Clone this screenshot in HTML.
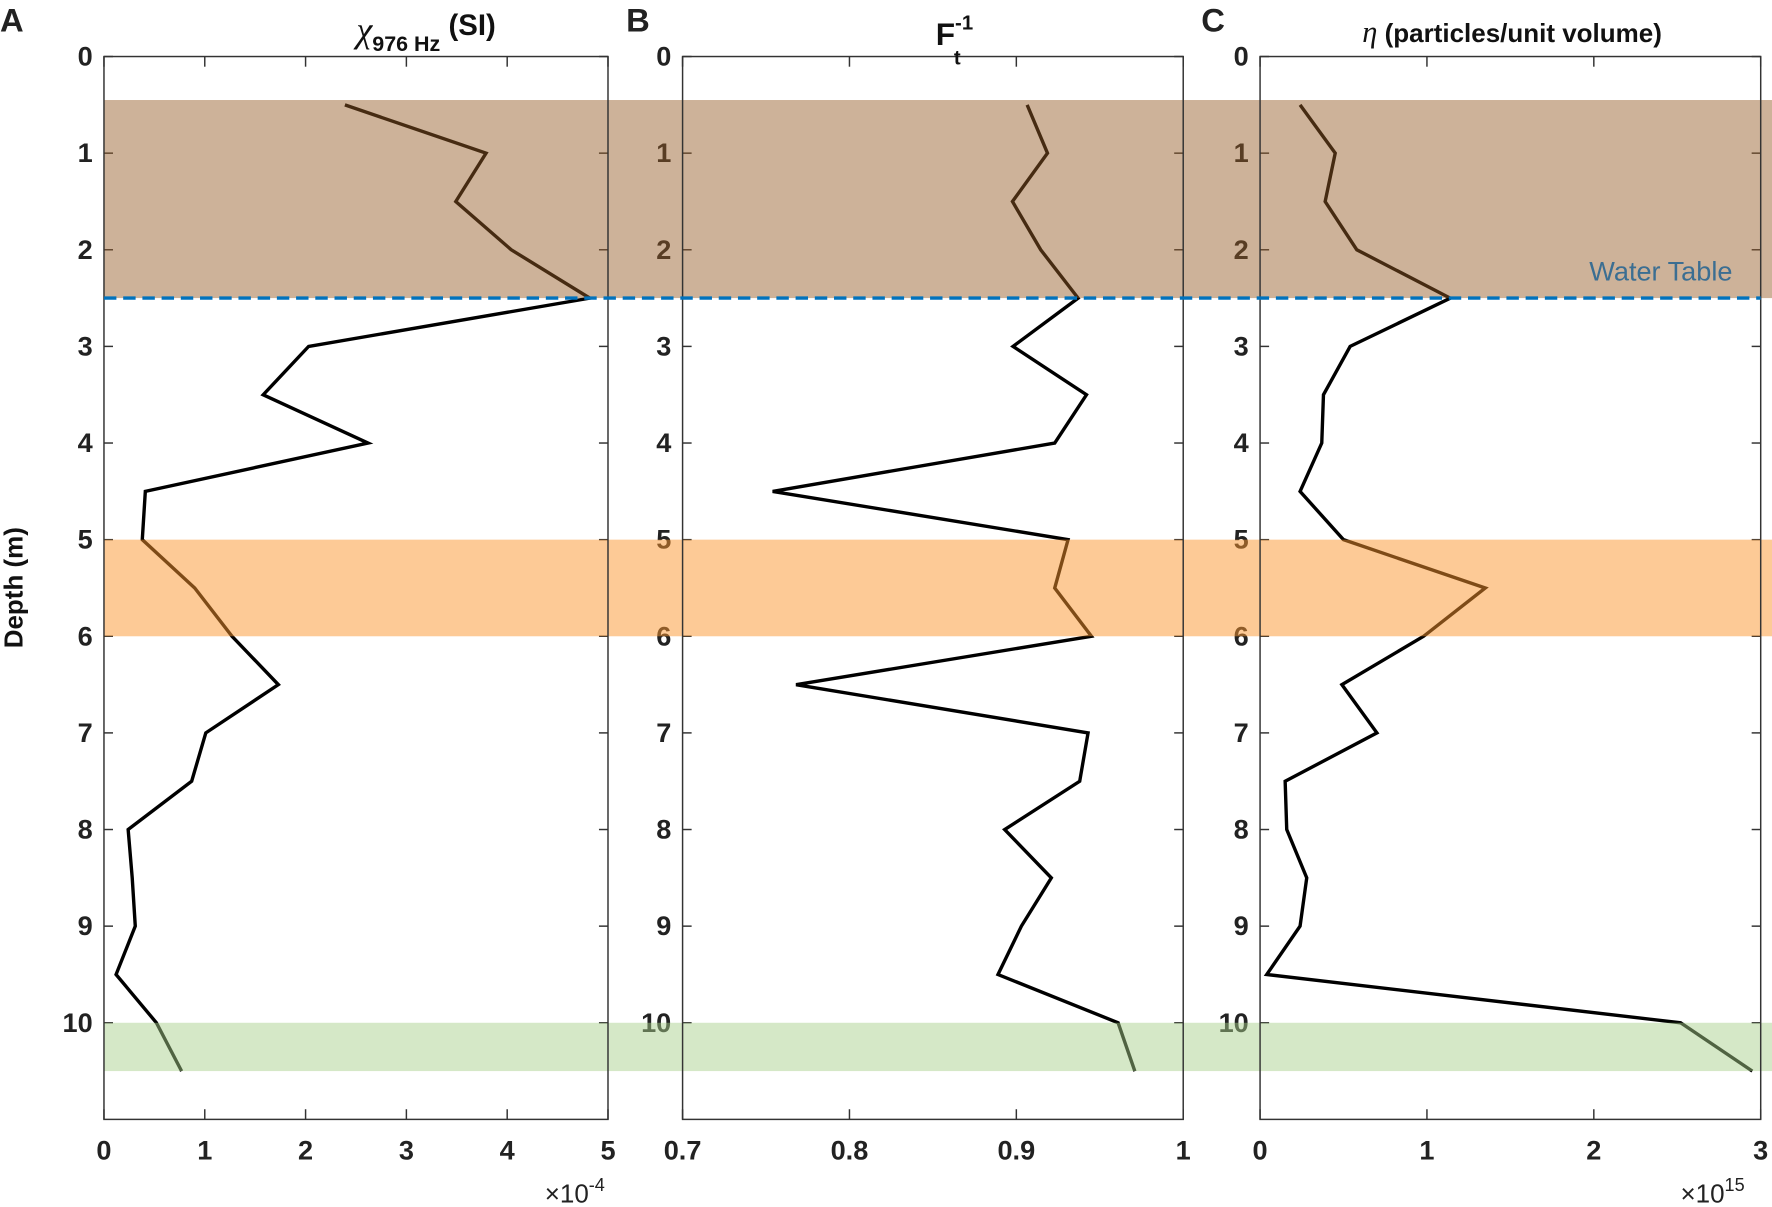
<!DOCTYPE html>
<html><head><meta charset="utf-8"><style>
html,body{margin:0;padding:0;background:#fff;}
svg{display:block;font-family:"Liberation Sans",sans-serif;font-weight:bold;}
</style></head><body>
<svg id="chart" width="1772" height="1207" viewBox="0 0 1568 1068" xmlns="http://www.w3.org/2000/svg"></svg>
<script>
const depths = [0.5,1,1.5,2,2.5,3,3.5,4,4.5,5,5.5,6,6.5,7,7.5,8,8.5,9,9.5,10,10.5];
const chiValues = [2.39,3.79,3.49,4.04,4.82,2.03,1.58,2.62,0.41,0.38,0.90,1.27,1.73,1.01,0.87,0.24,0.28,0.31,0.12,0.52,0.77];
const ftValues = [0.9065,0.9187,0.8977,0.9146,0.937,0.898,0.942,0.923,0.754,0.931,0.923,0.945,0.768,0.943,0.938,0.893,0.921,0.903,0.889,0.961,0.971];
const etaValues = [0.24,0.45,0.39,0.58,1.14,0.54,0.38,0.37,0.24,0.50,1.35,0.98,0.49,0.70,0.15,0.16,0.28,0.24,0.04,2.52,2.95];
const yTicks = [0,1,2,3,4,5,6,7,8,9,10];
const xTicksA = [0,1,2,3,4,5];
const xTicksB = [0.7,0.8,0.9,1];
const xTickLabelsB = ["0.7","0.8","0.9","1"];
const xTicksC = [0,1,2,3];
const bands = [[0.45,2.5],[5,6],[10,10.5]];
const waterTable = 2.5;

const NS="http://www.w3.org/2000/svg";
const svg=document.getElementById('chart');
function mk(tag,attrs,parent){const e=document.createElementNS(NS,tag);for(const k in attrs)e.setAttribute(k,attrs[k]);(parent||svg).appendChild(e);return e;}
const TOP=50,BOT=990.5,DMAX=11;
function yS(d){return TOP+(BOT-TOP)*d/DMAX;}
const panels=[
 {id:'a',x0:92,x1:538,min:0,max:5,vals:chiValues,ticks:xTicksA,labels:xTicksA.map(String),letter:'A',lx:0},
 {id:'b',x0:604,x1:1047,min:0.7,max:1,vals:ftValues,ticks:xTicksB,labels:xTickLabelsB,letter:'B',lx:554},
 {id:'c',x0:1115,x1:1558,min:0,max:3,vals:etaValues,ticks:xTicksC,labels:xTicksC.map(String),letter:'C',lx:1063}
];
panels.forEach(p=>{
 const xS=v=>p.x0+(p.x1-p.x0)*(v-p.min)/(p.max-p.min);
 const g=mk('g',{});
 
 
 yTicks.forEach(t=>{
  const y=yS(t);
  mk('line',{x1:p.x0,y1:y,x2:p.x0+8,y2:y,stroke:'#333','stroke-width':1.3},g);
  mk('line',{x1:p.x1,y1:y,x2:p.x1-8,y2:y,stroke:'#333','stroke-width':1.3},g);
  const tl=mk('text',{x:p.x0-10,y:y+8,'text-anchor':'end','font-size':24,fill:'#222'},g);
  tl.textContent=t;
  
  
 });
 p.ticks.forEach((t,i)=>{
  const x=xS(t);
  mk('line',{x1:x,y1:TOP,x2:x,y2:TOP+9,stroke:'#333','stroke-width':1.3},g);
  mk('line',{x1:x,y1:BOT,x2:x,y2:BOT-9,stroke:'#333','stroke-width':1.3},g);
  const tl=mk('text',{x:x,y:1026,'text-anchor':'middle','font-size':24,fill:'#222'},g);
  tl.textContent=p.labels[i];
  
  
 });
 const pts=depths.map((d,i)=>xS(p.vals[i]).toFixed(1)+','+yS(d).toFixed(1)).join(' ');
 const line=mk('polyline',{points:pts,fill:'none',stroke:'#000','stroke-width':3,'stroke-linejoin':'miter'},g);
 
 
 const L=mk('text',{x:p.lx,y:28,'font-size':29,fill:'#222'});
 L.textContent=p.letter;
 
 
});
const bandColors=[['#955b26',0.47],['#fb952d',0.5],['#a7ce89',0.48]];
bands.forEach((b,i)=>{
 const r=mk('rect',{x:92,y:yS(b[0]),width:1476,height:yS(b[1])-yS(b[0]),fill:bandColors[i][0],'fill-opacity':bandColors[i][1]});
 
 
});
panels.forEach(p=>{
 const b=mk('rect',{x:p.x0,y:TOP,width:p.x1-p.x0,height:BOT-TOP,fill:'none',stroke:'#333','stroke-width':1.3});
 
 
});
const wl=mk('line',{x1:92,y1:yS(waterTable),x2:1558,y2:yS(waterTable),stroke:'#0072bd','stroke-width':3,'stroke-dasharray':'11 6'});


</script>
<svg style="position:absolute;left:0;top:0" width="1772" height="1207" viewBox="0 0 1568 1068">
 <text x="1533" y="248" text-anchor="end" font-size="24" font-weight="normal" fill="#3b6e92">Water Table</text>
 <text x="377" y="37" text-anchor="middle" font-size="26" fill="#111"><tspan font-family="Liberation Serif" font-style="italic" font-weight="normal" font-size="32">χ</tspan><tspan font-size="19" dy="8">976 Hz</tspan><tspan dy="-14"> (SI)</tspan></text>
 <text x="828" y="40" font-size="28" fill="#111">F<tspan font-size="18" dy="-14">-1</tspan><tspan font-size="18" dx="-17" dy="31">t</tspan></text>
 <text x="1338" y="37" text-anchor="middle" font-size="23" fill="#111"><tspan font-family="Liberation Serif" font-style="italic" font-weight="normal" font-size="27">η</tspan> (particles/unit volume)</text>
 <text transform="translate(20,520) rotate(-90)" text-anchor="middle" font-size="23" fill="#111">Depth (m)</text>
 <text x="482" y="1064" font-size="23" font-weight="normal" fill="#222">×10<tspan font-size="16" dy="-10">-4</tspan></text>
 <text x="1487" y="1064" font-size="23" font-weight="normal" fill="#222">×10<tspan font-size="16" dy="-10">15</tspan></text>
</svg>
</body></html>
